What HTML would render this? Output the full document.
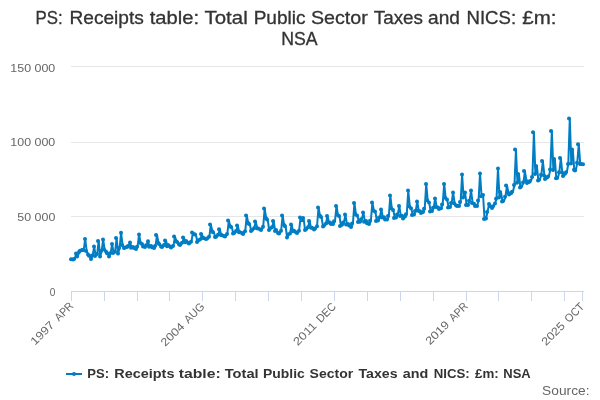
<!DOCTYPE html>
<html><head><meta charset="utf-8"><title>chart</title>
<style>
html,body{margin:0;padding:0;background:#fff;}
svg{display:block;font-family:"Liberation Sans",sans-serif;will-change:transform;}
</style></head><body>
<svg width="600" height="400" viewBox="0 0 600 400">
<rect width="600" height="400" fill="#fff"/>
<g fill="#333" stroke="#333" stroke-width="0.3" font-size="17.8px"><text x="35.5" y="24" textLength="27.14" lengthAdjust="spacingAndGlyphs">PS:</text><text x="69.51" y="24" textLength="74.38" lengthAdjust="spacingAndGlyphs">Receipts</text><text x="149.78" y="24" textLength="49.38" lengthAdjust="spacingAndGlyphs">table:</text><text x="204.55" y="24" textLength="43.13" lengthAdjust="spacingAndGlyphs">Total</text><text x="253.65" y="24" textLength="51.88" lengthAdjust="spacingAndGlyphs">Public</text><text x="310.95" y="24" textLength="56.79" lengthAdjust="spacingAndGlyphs">Sector</text><text x="373.77" y="24" textLength="49.17" lengthAdjust="spacingAndGlyphs">Taxes</text><text x="428.07" y="24" textLength="31.91" lengthAdjust="spacingAndGlyphs">and</text><text x="466.5" y="24" textLength="49.61" lengthAdjust="spacingAndGlyphs">NICS:</text><text x="522.3" y="24" textLength="34.18" lengthAdjust="spacingAndGlyphs">£m:</text><text x="281.15" y="45" textLength="36.41" lengthAdjust="spacingAndGlyphs">NSA</text></g>
<g stroke="#e6e6e6" stroke-width="1" shape-rendering="crispEdges">
<path d="M71 66.5H584M71 142.5H584M71 216.5H584"/>
</g>
<g stroke="#ccd6eb" stroke-width="1" fill="none" shape-rendering="crispEdges">
<path d="M71 291.5H584"/>
<path d="M71.5 291.5V301M104.5 291.5V301M137.5 291.5V301M169.5 291.5V301M202.5 291.5V301M235.5 291.5V301M268.5 291.5V301M301.5 291.5V301M334.5 291.5V301M367.5 291.5V301M400.5 291.5V301M433.5 291.5V301M466.5 291.5V301M498.5 291.5V301M531.5 291.5V301M564.5 291.5V301M582.5 291.5V301"/>
</g>
<g fill="#666" font-size="11.3px" text-anchor="end">
<text x="55.3" y="72" textLength="45" lengthAdjust="spacingAndGlyphs">150 000</text>
<text x="55.3" y="146" textLength="45" lengthAdjust="spacingAndGlyphs">100 000</text>
<text x="55.3" y="221" textLength="38" lengthAdjust="spacingAndGlyphs">50 000</text>
<text x="55.3" y="296" textLength="5.6" lengthAdjust="spacingAndGlyphs">0</text>
</g>
<g fill="#666" font-size="11.3px"><g transform="translate(74.08,306.66) rotate(-45)" text-anchor="end"><text x="0" y="0" textLength="21.30" lengthAdjust="spacingAndGlyphs">APR</text><text x="-26.80" y="0" textLength="28.6" lengthAdjust="spacingAndGlyphs">1997</text></g><g transform="translate(205.13,307.23) rotate(-45)" text-anchor="end"><text x="0" y="0" textLength="23.60" lengthAdjust="spacingAndGlyphs">AUG</text><text x="-28.30" y="0" textLength="28.0" lengthAdjust="spacingAndGlyphs">2004</text></g><g transform="translate(336.75,307.23) rotate(-45)" text-anchor="end"><text x="0" y="0" textLength="22.60" lengthAdjust="spacingAndGlyphs">DEC</text><text x="-27.30" y="0" textLength="28.0" lengthAdjust="spacingAndGlyphs">2011</text></g><g transform="translate(468.58,307.02) rotate(-45)" text-anchor="end"><text x="0" y="0" textLength="21.30" lengthAdjust="spacingAndGlyphs">APR</text><text x="-26.30" y="0" textLength="28.2" lengthAdjust="spacingAndGlyphs">2019</text></g><g transform="translate(584.95,307.30) rotate(-45)" text-anchor="end"><text x="0" y="0" textLength="22.56" lengthAdjust="spacingAndGlyphs">OCT</text><text x="-27.16" y="0" textLength="28.0" lengthAdjust="spacingAndGlyphs">2025</text></g></g>
<path d="M71.75 259.25 L73.24 259.55 L74.74 259.10 L76.23 253.55 L77.73 256.40 L79.23 252.05 L80.72 250.70 L82.22 250.10 L83.71 250.10 L85.21 239.00 L86.70 251.00 L88.20 254.45 L89.70 255.80 L91.19 258.95 L92.69 255.50 L94.18 246.50 L95.68 255.95 L97.17 254.00 L98.67 240.95 L100.16 256.55 L101.66 251.00 L103.16 239.45 L104.65 249.50 L106.15 251.45 L107.64 253.25 L109.14 256.55 L110.63 253.25 L112.13 243.95 L113.63 252.95 L115.12 251.75 L116.62 237.95 L118.11 253.55 L119.61 248.00 L121.10 232.70 L122.60 245.00 L124.09 248.00 L125.59 247.55 L127.09 246.95 L128.58 246.02 L130.08 242.45 L131.57 247.73 L133.07 246.95 L134.56 248.00 L136.06 249.05 L137.56 246.87 L139.05 234.50 L140.55 242.75 L142.04 243.95 L143.54 246.50 L145.03 246.95 L146.53 245.24 L148.02 241.25 L149.52 246.65 L151.02 246.05 L152.51 247.25 L154.01 248.00 L155.50 246.04 L157.00 234.95 L158.49 242.75 L159.99 243.95 L161.49 246.50 L162.98 246.95 L164.48 245.01 L165.97 240.50 L167.47 246.14 L168.96 245.00 L170.46 246.50 L171.95 247.55 L173.45 245.88 L174.95 236.45 L176.44 241.33 L177.94 242.00 L179.43 244.25 L180.93 245.00 L182.42 242.75 L183.92 237.50 L185.42 242.30 L186.91 240.95 L188.41 242.75 L189.90 243.50 L191.40 241.86 L192.89 232.55 L194.39 234.27 L195.88 234.50 L197.38 242.00 L198.88 240.50 L200.37 239.62 L201.87 234.05 L203.36 238.01 L204.86 238.25 L206.35 239.00 L207.85 238.55 L209.35 236.82 L210.84 224.45 L212.34 231.31 L213.83 232.25 L215.33 237.05 L216.82 236.75 L218.32 234.71 L219.81 229.25 L221.31 235.01 L222.81 235.25 L224.30 236.00 L225.80 236.45 L227.29 234.06 L228.79 220.55 L230.28 226.23 L231.78 227.00 L233.28 233.45 L234.77 233.00 L236.27 231.06 L237.76 225.50 L239.26 232.34 L240.75 232.25 L242.25 233.00 L243.74 234.05 L245.24 231.26 L246.74 215.45 L248.23 222.97 L249.73 224.00 L251.22 231.05 L252.72 230.00 L254.21 228.17 L255.71 221.45 L257.21 228.29 L258.70 228.50 L260.20 229.25 L261.69 230.00 L263.19 226.78 L264.68 208.55 L266.18 218.19 L267.67 219.50 L269.17 230.00 L270.67 228.50 L272.16 227.30 L273.66 221.00 L275.15 230.96 L276.65 230.00 L278.14 233.00 L279.64 233.45 L281.14 230.75 L282.63 215.45 L284.13 224.95 L285.62 226.25 L287.12 237.50 L288.61 234.50 L290.11 233.59 L291.60 224.45 L293.10 231.29 L294.60 230.75 L296.09 232.25 L297.59 233.00 L299.08 230.68 L300.58 217.55 L302.07 220.25 L303.57 218.00 L305.07 230.00 L306.56 229.25 L308.06 227.30 L309.55 221.00 L311.05 227.84 L312.54 227.75 L314.04 229.55 L315.53 228.50 L317.03 226.24 L318.53 207.50 L320.02 215.82 L321.52 216.95 L323.01 226.55 L324.51 225.50 L326.00 223.40 L327.50 216.05 L329.00 222.41 L330.49 222.50 L331.99 224.00 L333.48 224.00 L334.98 221.30 L336.47 206.00 L337.97 214.84 L339.47 216.05 L340.96 225.95 L342.46 224.75 L343.95 222.53 L345.45 214.55 L346.94 224.51 L348.44 224.00 L349.93 225.50 L351.43 227.00 L352.93 223.40 L354.42 203.00 L355.92 213.96 L357.41 215.45 L358.91 222.05 L360.40 221.75 L361.90 219.17 L363.40 212.45 L364.89 221.69 L366.39 221.00 L367.88 223.25 L369.38 224.00 L370.87 220.78 L372.37 202.55 L373.86 210.47 L375.36 211.55 L376.86 221.00 L378.35 220.55 L379.85 217.53 L381.34 209.45 L382.84 217.49 L384.33 217.25 L385.83 219.50 L387.33 219.50 L388.82 215.90 L390.32 195.50 L391.81 208.30 L393.31 210.05 L394.80 218.00 L396.30 217.55 L397.79 214.40 L399.29 206.00 L400.79 215.96 L402.28 215.75 L403.78 218.45 L405.27 216.50 L406.77 214.26 L408.26 190.55 L409.76 206.13 L411.26 208.25 L412.75 215.00 L414.25 214.55 L415.74 210.95 L417.24 201.50 L418.73 210.74 L420.23 211.25 L421.72 213.05 L423.22 212.00 L424.72 208.69 L426.21 183.95 L427.71 200.32 L429.20 202.55 L430.70 211.55 L432.19 210.95 L433.69 207.63 L435.19 198.50 L436.68 206.90 L438.18 207.50 L439.67 209.00 L441.17 208.25 L442.66 204.50 L444.16 183.95 L445.65 197.68 L447.15 199.55 L448.65 207.50 L450.14 207.05 L451.64 203.00 L453.13 192.50 L454.63 203.30 L456.12 205.25 L457.62 206.00 L459.12 206.00 L460.61 201.95 L462.11 174.50 L463.60 197.45 L465.10 192.50 L466.59 204.95 L468.09 204.95 L469.58 200.63 L471.08 190.55 L472.58 202.91 L474.07 203.75 L475.57 206.00 L477.06 206.00 L478.56 200.45 L480.05 173.45 L481.55 196.25 L483.05 195.05 L484.54 219.05 L486.04 218.45 L487.53 212.00 L489.03 204.05 L490.52 206.15 L492.02 207.95 L493.51 206.15 L495.01 203.60 L496.51 198.80 L498.00 168.50 L499.50 197.45 L500.99 192.05 L502.49 201.50 L503.98 201.05 L505.48 196.69 L506.98 185.45 L508.47 192.65 L509.97 194.45 L511.46 193.25 L512.96 191.75 L514.45 185.00 L515.95 149.45 L517.44 182.75 L518.94 174.05 L520.44 187.55 L521.93 186.50 L523.43 182.60 L524.92 171.05 L526.42 180.65 L527.91 183.05 L529.41 182.00 L530.91 180.95 L532.40 177.05 L533.90 132.20 L535.39 173.90 L536.89 165.95 L538.38 180.50 L539.88 179.75 L541.37 174.65 L542.87 161.00 L544.37 175.40 L545.86 179.00 L547.36 177.50 L548.85 176.45 L550.35 169.55 L551.84 131.00 L553.34 170.00 L554.84 159.05 L556.33 178.25 L557.83 177.95 L559.32 172.18 L560.82 158.00 L562.31 172.40 L563.81 176.00 L565.30 173.75 L566.80 172.25 L568.30 164.00 L569.79 118.55 L571.29 163.55 L572.78 149.45 L574.28 169.70 L575.77 170.60 L577.27 162.68 L578.77 144.20 L580.26 164.00 L581.76 164.00 L583.25 164.15" fill="none" stroke="#007dc3" stroke-width="2" stroke-linejoin="round" stroke-linecap="round"/>
<g fill="#007dc3"><circle cx="71" cy="259.25" r="2"/><circle cx="73" cy="259.55" r="2"/><circle cx="74" cy="259.10" r="2"/><circle cx="76" cy="253.55" r="2"/><circle cx="77" cy="256.40" r="2"/><circle cx="79" cy="252.05" r="2"/><circle cx="80" cy="250.70" r="2"/><circle cx="82" cy="250.10" r="2"/><circle cx="83" cy="250.10" r="2"/><circle cx="85" cy="239.00" r="2"/><circle cx="86" cy="251.00" r="2"/><circle cx="88" cy="254.45" r="2"/><circle cx="89" cy="255.80" r="2"/><circle cx="91" cy="258.95" r="2"/><circle cx="92" cy="255.50" r="2"/><circle cx="94" cy="246.50" r="2"/><circle cx="95" cy="255.95" r="2"/><circle cx="97" cy="254.00" r="2"/><circle cx="98" cy="240.95" r="2"/><circle cx="100" cy="256.55" r="2"/><circle cx="101" cy="251.00" r="2"/><circle cx="103" cy="239.45" r="2"/><circle cx="104" cy="249.50" r="2"/><circle cx="106" cy="251.45" r="2"/><circle cx="107" cy="253.25" r="2"/><circle cx="109" cy="256.55" r="2"/><circle cx="110" cy="253.25" r="2"/><circle cx="112" cy="243.95" r="2"/><circle cx="113" cy="252.95" r="2"/><circle cx="115" cy="251.75" r="2"/><circle cx="116" cy="237.95" r="2"/><circle cx="118" cy="253.55" r="2"/><circle cx="119" cy="248.00" r="2"/><circle cx="121" cy="232.70" r="2"/><circle cx="122" cy="245.00" r="2"/><circle cx="124" cy="248.00" r="2"/><circle cx="125" cy="247.55" r="2"/><circle cx="127" cy="246.95" r="2"/><circle cx="128" cy="246.02" r="2"/><circle cx="130" cy="242.45" r="2"/><circle cx="131" cy="247.73" r="2"/><circle cx="133" cy="246.95" r="2"/><circle cx="134" cy="248.00" r="2"/><circle cx="136" cy="249.05" r="2"/><circle cx="137" cy="246.87" r="2"/><circle cx="139" cy="234.50" r="2"/><circle cx="140" cy="242.75" r="2"/><circle cx="142" cy="243.95" r="2"/><circle cx="143" cy="246.50" r="2"/><circle cx="145" cy="246.95" r="2"/><circle cx="146" cy="245.24" r="2"/><circle cx="148" cy="241.25" r="2"/><circle cx="149" cy="246.65" r="2"/><circle cx="151" cy="246.05" r="2"/><circle cx="152" cy="247.25" r="2"/><circle cx="154" cy="248.00" r="2"/><circle cx="155" cy="246.04" r="2"/><circle cx="156" cy="234.95" r="2"/><circle cx="158" cy="242.75" r="2"/><circle cx="159" cy="243.95" r="2"/><circle cx="161" cy="246.50" r="2"/><circle cx="162" cy="246.95" r="2"/><circle cx="164" cy="245.01" r="2"/><circle cx="165" cy="240.50" r="2"/><circle cx="167" cy="246.14" r="2"/><circle cx="168" cy="245.00" r="2"/><circle cx="170" cy="246.50" r="2"/><circle cx="171" cy="247.55" r="2"/><circle cx="173" cy="245.88" r="2"/><circle cx="174" cy="236.45" r="2"/><circle cx="176" cy="241.33" r="2"/><circle cx="177" cy="242.00" r="2"/><circle cx="179" cy="244.25" r="2"/><circle cx="180" cy="245.00" r="2"/><circle cx="182" cy="242.75" r="2"/><circle cx="183" cy="237.50" r="2"/><circle cx="185" cy="242.30" r="2"/><circle cx="186" cy="240.95" r="2"/><circle cx="188" cy="242.75" r="2"/><circle cx="189" cy="243.50" r="2"/><circle cx="191" cy="241.86" r="2"/><circle cx="192" cy="232.55" r="2"/><circle cx="194" cy="234.27" r="2"/><circle cx="195" cy="234.50" r="2"/><circle cx="197" cy="242.00" r="2"/><circle cx="198" cy="240.50" r="2"/><circle cx="200" cy="239.62" r="2"/><circle cx="201" cy="234.05" r="2"/><circle cx="203" cy="238.01" r="2"/><circle cx="204" cy="238.25" r="2"/><circle cx="206" cy="239.00" r="2"/><circle cx="207" cy="238.55" r="2"/><circle cx="209" cy="236.82" r="2"/><circle cx="210" cy="224.45" r="2"/><circle cx="212" cy="231.31" r="2"/><circle cx="213" cy="232.25" r="2"/><circle cx="215" cy="237.05" r="2"/><circle cx="216" cy="236.75" r="2"/><circle cx="218" cy="234.71" r="2"/><circle cx="219" cy="229.25" r="2"/><circle cx="221" cy="235.01" r="2"/><circle cx="222" cy="235.25" r="2"/><circle cx="224" cy="236.00" r="2"/><circle cx="225" cy="236.45" r="2"/><circle cx="227" cy="234.06" r="2"/><circle cx="228" cy="220.55" r="2"/><circle cx="230" cy="226.23" r="2"/><circle cx="231" cy="227.00" r="2"/><circle cx="233" cy="233.45" r="2"/><circle cx="234" cy="233.00" r="2"/><circle cx="236" cy="231.06" r="2"/><circle cx="237" cy="225.50" r="2"/><circle cx="239" cy="232.34" r="2"/><circle cx="240" cy="232.25" r="2"/><circle cx="242" cy="233.00" r="2"/><circle cx="243" cy="234.05" r="2"/><circle cx="245" cy="231.26" r="2"/><circle cx="246" cy="215.45" r="2"/><circle cx="248" cy="222.97" r="2"/><circle cx="249" cy="224.00" r="2"/><circle cx="251" cy="231.05" r="2"/><circle cx="252" cy="230.00" r="2"/><circle cx="254" cy="228.17" r="2"/><circle cx="255" cy="221.45" r="2"/><circle cx="257" cy="228.29" r="2"/><circle cx="258" cy="228.50" r="2"/><circle cx="260" cy="229.25" r="2"/><circle cx="261" cy="230.00" r="2"/><circle cx="263" cy="226.78" r="2"/><circle cx="264" cy="208.55" r="2"/><circle cx="266" cy="218.19" r="2"/><circle cx="267" cy="219.50" r="2"/><circle cx="269" cy="230.00" r="2"/><circle cx="270" cy="228.50" r="2"/><circle cx="272" cy="227.30" r="2"/><circle cx="273" cy="221.00" r="2"/><circle cx="275" cy="230.96" r="2"/><circle cx="276" cy="230.00" r="2"/><circle cx="278" cy="233.00" r="2"/><circle cx="279" cy="233.45" r="2"/><circle cx="281" cy="230.75" r="2"/><circle cx="282" cy="215.45" r="2"/><circle cx="284" cy="224.95" r="2"/><circle cx="285" cy="226.25" r="2"/><circle cx="287" cy="237.50" r="2"/><circle cx="288" cy="234.50" r="2"/><circle cx="290" cy="233.59" r="2"/><circle cx="291" cy="224.45" r="2"/><circle cx="293" cy="231.29" r="2"/><circle cx="294" cy="230.75" r="2"/><circle cx="296" cy="232.25" r="2"/><circle cx="297" cy="233.00" r="2"/><circle cx="299" cy="230.68" r="2"/><circle cx="300" cy="217.55" r="2"/><circle cx="302" cy="220.25" r="2"/><circle cx="303" cy="218.00" r="2"/><circle cx="305" cy="230.00" r="2"/><circle cx="306" cy="229.25" r="2"/><circle cx="308" cy="227.30" r="2"/><circle cx="309" cy="221.00" r="2"/><circle cx="311" cy="227.84" r="2"/><circle cx="312" cy="227.75" r="2"/><circle cx="314" cy="229.55" r="2"/><circle cx="315" cy="228.50" r="2"/><circle cx="317" cy="226.24" r="2"/><circle cx="318" cy="207.50" r="2"/><circle cx="320" cy="215.82" r="2"/><circle cx="321" cy="216.95" r="2"/><circle cx="323" cy="226.55" r="2"/><circle cx="324" cy="225.50" r="2"/><circle cx="326" cy="223.40" r="2"/><circle cx="327" cy="216.05" r="2"/><circle cx="328" cy="222.41" r="2"/><circle cx="330" cy="222.50" r="2"/><circle cx="331" cy="224.00" r="2"/><circle cx="333" cy="224.00" r="2"/><circle cx="334" cy="221.30" r="2"/><circle cx="336" cy="206.00" r="2"/><circle cx="337" cy="214.84" r="2"/><circle cx="339" cy="216.05" r="2"/><circle cx="340" cy="225.95" r="2"/><circle cx="342" cy="224.75" r="2"/><circle cx="343" cy="222.53" r="2"/><circle cx="345" cy="214.55" r="2"/><circle cx="346" cy="224.51" r="2"/><circle cx="348" cy="224.00" r="2"/><circle cx="349" cy="225.50" r="2"/><circle cx="351" cy="227.00" r="2"/><circle cx="352" cy="223.40" r="2"/><circle cx="354" cy="203.00" r="2"/><circle cx="355" cy="213.96" r="2"/><circle cx="357" cy="215.45" r="2"/><circle cx="358" cy="222.05" r="2"/><circle cx="360" cy="221.75" r="2"/><circle cx="361" cy="219.17" r="2"/><circle cx="363" cy="212.45" r="2"/><circle cx="364" cy="221.69" r="2"/><circle cx="366" cy="221.00" r="2"/><circle cx="367" cy="223.25" r="2"/><circle cx="369" cy="224.00" r="2"/><circle cx="370" cy="220.78" r="2"/><circle cx="372" cy="202.55" r="2"/><circle cx="373" cy="210.47" r="2"/><circle cx="375" cy="211.55" r="2"/><circle cx="376" cy="221.00" r="2"/><circle cx="378" cy="220.55" r="2"/><circle cx="379" cy="217.53" r="2"/><circle cx="381" cy="209.45" r="2"/><circle cx="382" cy="217.49" r="2"/><circle cx="384" cy="217.25" r="2"/><circle cx="385" cy="219.50" r="2"/><circle cx="387" cy="219.50" r="2"/><circle cx="388" cy="215.90" r="2"/><circle cx="390" cy="195.50" r="2"/><circle cx="391" cy="208.30" r="2"/><circle cx="393" cy="210.05" r="2"/><circle cx="394" cy="218.00" r="2"/><circle cx="396" cy="217.55" r="2"/><circle cx="397" cy="214.40" r="2"/><circle cx="399" cy="206.00" r="2"/><circle cx="400" cy="215.96" r="2"/><circle cx="402" cy="215.75" r="2"/><circle cx="403" cy="218.45" r="2"/><circle cx="405" cy="216.50" r="2"/><circle cx="406" cy="214.26" r="2"/><circle cx="408" cy="190.55" r="2"/><circle cx="409" cy="206.13" r="2"/><circle cx="411" cy="208.25" r="2"/><circle cx="412" cy="215.00" r="2"/><circle cx="414" cy="214.55" r="2"/><circle cx="415" cy="210.95" r="2"/><circle cx="417" cy="201.50" r="2"/><circle cx="418" cy="210.74" r="2"/><circle cx="420" cy="211.25" r="2"/><circle cx="421" cy="213.05" r="2"/><circle cx="423" cy="212.00" r="2"/><circle cx="424" cy="208.69" r="2"/><circle cx="426" cy="183.95" r="2"/><circle cx="427" cy="200.32" r="2"/><circle cx="429" cy="202.55" r="2"/><circle cx="430" cy="211.55" r="2"/><circle cx="432" cy="210.95" r="2"/><circle cx="433" cy="207.63" r="2"/><circle cx="435" cy="198.50" r="2"/><circle cx="436" cy="206.90" r="2"/><circle cx="438" cy="207.50" r="2"/><circle cx="439" cy="209.00" r="2"/><circle cx="441" cy="208.25" r="2"/><circle cx="442" cy="204.50" r="2"/><circle cx="444" cy="183.95" r="2"/><circle cx="445" cy="197.68" r="2"/><circle cx="447" cy="199.55" r="2"/><circle cx="448" cy="207.50" r="2"/><circle cx="450" cy="207.05" r="2"/><circle cx="451" cy="203.00" r="2"/><circle cx="453" cy="192.50" r="2"/><circle cx="454" cy="203.30" r="2"/><circle cx="456" cy="205.25" r="2"/><circle cx="457" cy="206.00" r="2"/><circle cx="459" cy="206.00" r="2"/><circle cx="460" cy="201.95" r="2"/><circle cx="462" cy="174.50" r="2"/><circle cx="463" cy="197.45" r="2"/><circle cx="465" cy="192.50" r="2"/><circle cx="466" cy="204.95" r="2"/><circle cx="468" cy="204.95" r="2"/><circle cx="469" cy="200.63" r="2"/><circle cx="471" cy="190.55" r="2"/><circle cx="472" cy="202.91" r="2"/><circle cx="474" cy="203.75" r="2"/><circle cx="475" cy="206.00" r="2"/><circle cx="477" cy="206.00" r="2"/><circle cx="478" cy="200.45" r="2"/><circle cx="480" cy="173.45" r="2"/><circle cx="481" cy="196.25" r="2"/><circle cx="483" cy="195.05" r="2"/><circle cx="484" cy="219.05" r="2"/><circle cx="486" cy="218.45" r="2"/><circle cx="487" cy="212.00" r="2"/><circle cx="489" cy="204.05" r="2"/><circle cx="490" cy="206.15" r="2"/><circle cx="492" cy="207.95" r="2"/><circle cx="493" cy="206.15" r="2"/><circle cx="495" cy="203.60" r="2"/><circle cx="496" cy="198.80" r="2"/><circle cx="498" cy="168.50" r="2"/><circle cx="499" cy="197.45" r="2"/><circle cx="500" cy="192.05" r="2"/><circle cx="502" cy="201.50" r="2"/><circle cx="503" cy="201.05" r="2"/><circle cx="505" cy="196.69" r="2"/><circle cx="506" cy="185.45" r="2"/><circle cx="508" cy="192.65" r="2"/><circle cx="509" cy="194.45" r="2"/><circle cx="511" cy="193.25" r="2"/><circle cx="512" cy="191.75" r="2"/><circle cx="514" cy="185.00" r="2"/><circle cx="515" cy="149.45" r="2"/><circle cx="517" cy="182.75" r="2"/><circle cx="518" cy="174.05" r="2"/><circle cx="520" cy="187.55" r="2"/><circle cx="521" cy="186.50" r="2"/><circle cx="523" cy="182.60" r="2"/><circle cx="524" cy="171.05" r="2"/><circle cx="526" cy="180.65" r="2"/><circle cx="527" cy="183.05" r="2"/><circle cx="529" cy="182.00" r="2"/><circle cx="530" cy="180.95" r="2"/><circle cx="532" cy="177.05" r="2"/><circle cx="533" cy="132.20" r="2"/><circle cx="535" cy="173.90" r="2"/><circle cx="536" cy="165.95" r="2"/><circle cx="538" cy="180.50" r="2"/><circle cx="539" cy="179.75" r="2"/><circle cx="541" cy="174.65" r="2"/><circle cx="542" cy="161.00" r="2"/><circle cx="544" cy="175.40" r="2"/><circle cx="545" cy="179.00" r="2"/><circle cx="547" cy="177.50" r="2"/><circle cx="548" cy="176.45" r="2"/><circle cx="550" cy="169.55" r="2"/><circle cx="551" cy="131.00" r="2"/><circle cx="553" cy="170.00" r="2"/><circle cx="554" cy="159.05" r="2"/><circle cx="556" cy="178.25" r="2"/><circle cx="557" cy="177.95" r="2"/><circle cx="559" cy="172.18" r="2"/><circle cx="560" cy="158.00" r="2"/><circle cx="562" cy="172.40" r="2"/><circle cx="563" cy="176.00" r="2"/><circle cx="565" cy="173.75" r="2"/><circle cx="566" cy="172.25" r="2"/><circle cx="568" cy="164.00" r="2"/><circle cx="569" cy="118.55" r="2"/><circle cx="571" cy="163.55" r="2"/><circle cx="572" cy="149.45" r="2"/><circle cx="574" cy="169.70" r="2"/><circle cx="575" cy="170.60" r="2"/><circle cx="577" cy="162.68" r="2"/><circle cx="578" cy="144.20" r="2"/><circle cx="580" cy="164.00" r="2"/><circle cx="581" cy="164.00" r="2"/><circle cx="583" cy="164.15" r="2"/></g>
<path d="M66 374H82" stroke="#007dc3" stroke-width="2"/>
<circle cx="74" cy="374" r="2" fill="#007dc3"/>
<g fill="#333" font-size="12.2px" font-weight="bold"><text x="87.33" y="378" textLength="21.73" lengthAdjust="spacingAndGlyphs">PS:</text><text x="114.24" y="378" textLength="60.24" lengthAdjust="spacingAndGlyphs">Receipts</text><text x="178.78" y="378" textLength="41.99" lengthAdjust="spacingAndGlyphs">table:</text><text x="224.75" y="378" textLength="33.93" lengthAdjust="spacingAndGlyphs">Total</text><text x="263.1" y="378" textLength="41.74" lengthAdjust="spacingAndGlyphs">Public</text><text x="309.55" y="378" textLength="43.6" lengthAdjust="spacingAndGlyphs">Sector</text><text x="358.5" y="378" textLength="39.04" lengthAdjust="spacingAndGlyphs">Taxes</text><text x="402.7" y="378" textLength="25.53" lengthAdjust="spacingAndGlyphs">and</text><text x="433.68" y="378" textLength="36.04" lengthAdjust="spacingAndGlyphs">NICS:</text><text x="475.0" y="378" textLength="23.69" lengthAdjust="spacingAndGlyphs">£m:</text><text x="503.32" y="378" textLength="27.43" lengthAdjust="spacingAndGlyphs">NSA</text></g>
<text x="542.1" y="394.5" fill="#666" font-size="12.2px" textLength="47.4" lengthAdjust="spacingAndGlyphs">Source:</text>
</svg>
</body></html>
